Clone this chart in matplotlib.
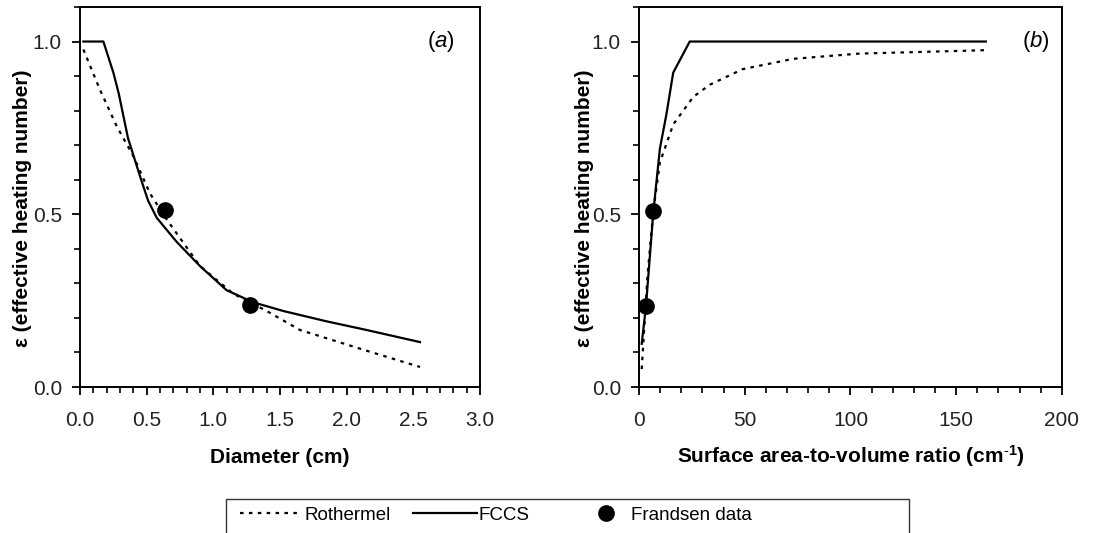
import matplotlib
matplotlib.use("Agg")
import matplotlib.pyplot as plt
from matplotlib.ticker import MultipleLocator
from matplotlib.lines import Line2D
from matplotlib.patches import Rectangle

plt.rcParams['font.family'] = ['Liberation Sans', 'DejaVu Sans']
plt.rcParams['mathtext.fontset'] = 'custom'
plt.rcParams['mathtext.rm'] = 'Liberation Sans'
plt.rcParams['mathtext.it'] = 'Liberation Sans:italic'
plt.rcParams['mathtext.bf'] = 'Liberation Sans:bold'

# panel (a): diameter (cm)
diam_fccs = [0.025, 0.175, 0.25, 0.29, 0.36, 0.45, 0.51, 0.575, 0.725, 0.9, 1.1, 1.3, 1.525, 1.85, 2.15, 2.55]
eps_fccs_a = [1.0, 1.0, 0.91, 0.85, 0.72, 0.61, 0.54, 0.49, 0.42, 0.35, 0.28, 0.245, 0.22, 0.19, 0.165, 0.13]
diam_roth = [0.025, 0.15, 0.275, 0.4, 0.525, 0.65, 0.9, 1.15, 1.4, 1.65, 1.9, 2.15, 2.55]
eps_roth_a = [0.977, 0.86, 0.755, 0.668, 0.56, 0.485, 0.35, 0.27, 0.22, 0.165, 0.135, 0.105, 0.058]
diam_frandsen = [0.64, 1.275]
eps_frandsen_a = [0.513, 0.237]

# panel (b): surface area-to-volume ratio (cm^-1)
sav_fccs = [1.3, 3.3, 6.8, 9.9, 13, 16.2, 24, 164]
eps_fccs_b = [0.125, 0.233, 0.507, 0.69, 0.79, 0.91, 1.0, 1.0]
sav_roth = [1.3, 2.5, 4.0, 6.8, 9.9, 16.2, 25.7, 33.5, 49, 73, 104, 164]
eps_roth_b = [0.052, 0.17, 0.32, 0.51, 0.65, 0.76, 0.84, 0.875, 0.92, 0.95, 0.965, 0.975]
sav_frandsen = [3.3, 6.8]
eps_frandsen_b = [0.235, 0.51]

legend_labels = ["Rothermel", "FCCS", "Frandsen data"]

dot = (0, (1.6, 2.4))
FS = 15
fig = plt.figure(figsize=(11.07, 5.33), dpi=100)
ax1 = fig.add_axes([0.0723, 0.2739, 0.3613, 0.713])
ax2 = fig.add_axes([0.5772, 0.2739, 0.3821, 0.713])

ax1.plot(diam_roth, eps_roth_a, color='black', lw=1.6, linestyle=dot)
ax1.plot(diam_fccs, eps_fccs_a, color='black', lw=1.6)
ax1.plot(diam_frandsen, eps_frandsen_a, 'o', color='black', ms=11)
ax1.set_xlim(0, 3.0)
ax1.xaxis.set_minor_locator(MultipleLocator(0.1))
ax1.set_xticks([0, 0.5, 1.0, 1.5, 2.0, 2.5, 3.0])
ax1.set_xticklabels(["0.0", "0.5", "1.0", "1.5", "2.0", "2.5", "3.0"])
ax1.set_xlabel("Diameter (cm)", fontsize=FS, fontweight='bold')
ax1.text(0.9375, 0.908, r"($\it{a}$)", transform=ax1.transAxes, ha='right', va='center', fontsize=FS + 1)

ax2.plot(sav_roth, eps_roth_b, color='black', lw=1.6, linestyle=dot)
ax2.plot(sav_fccs, eps_fccs_b, color='black', lw=1.6)
ax2.plot(sav_frandsen, eps_frandsen_b, 'o', color='black', ms=11)
ax2.set_xlim(0, 200)
ax2.xaxis.set_major_locator(MultipleLocator(50))
ax2.xaxis.set_minor_locator(MultipleLocator(10))
ax2.set_xlabel(r"Surface area-to-volume ratio (cm$^{\mathbf{\text{-}1}}$)", fontsize=FS, fontweight='bold')
ax2.text(0.972, 0.908, r"($\it{b}$)", transform=ax2.transAxes, ha='right', va='center', fontsize=FS + 1)

for ax, ylx in ((ax1, -0.12), (ax2, -0.106)):
    ax.set_ylim(0, 1.1)
    ax.yaxis.set_minor_locator(MultipleLocator(0.1))
    ax.set_yticks([0.0, 0.5, 1.0])
    ax.set_yticklabels(["0.0", "0.5", "1.0"])
    ax.set_ylabel("ε (effective heating number)", fontsize=FS, fontweight='bold')
    ax.yaxis.set_label_coords(ylx, 0.47)
    ax.xaxis.label.set_va('baseline')
    ax.xaxis.set_label_coords(0.5, -0.2)
    ax.tick_params(which='major', direction='out', length=6, width=1.3, labelsize=FS,
                   color='black', labelcolor='#222222')
    ax.tick_params(axis='x', which='major', pad=11)
    ax.tick_params(axis='y', which='major', pad=7)
    ax.tick_params(which='minor', direction='out', length=4, width=1.2, color='black')
    for s in ax.spines.values():
        s.set_linewidth(1.4)

# legend: wide box whose bottom runs off the figure, one entry per slot
fig.patches.append(Rectangle((226 / 1107, -0.05), 683 / 1107, 0.05 + 1 - 499 / 533,
                             transform=fig.transFigure, fill=False, edgecolor='#333333', lw=1.0))
handles = [Line2D([], [], color='black', lw=1.6, linestyle=dot),
           Line2D([], [], color='black', lw=1.6),
           Line2D([], [], color='black', marker='o', ms=11, linestyle='none')]
slots = [(240, 3.3, 0.15), (413, 3.4, 0.12), (590, 1.7, 0.5)]
for h, lab, (x0, hl, tp) in zip(handles, legend_labels, slots):
    fig.legend([h], [lab], loc='center left', bbox_to_anchor=(x0 / 1107, 1 - 515 / 533),
               fontsize=13.5, frameon=False, handlelength=hl, handletextpad=tp,
               borderpad=0, borderaxespad=0)

fig.savefig("out.png", dpi=100)
